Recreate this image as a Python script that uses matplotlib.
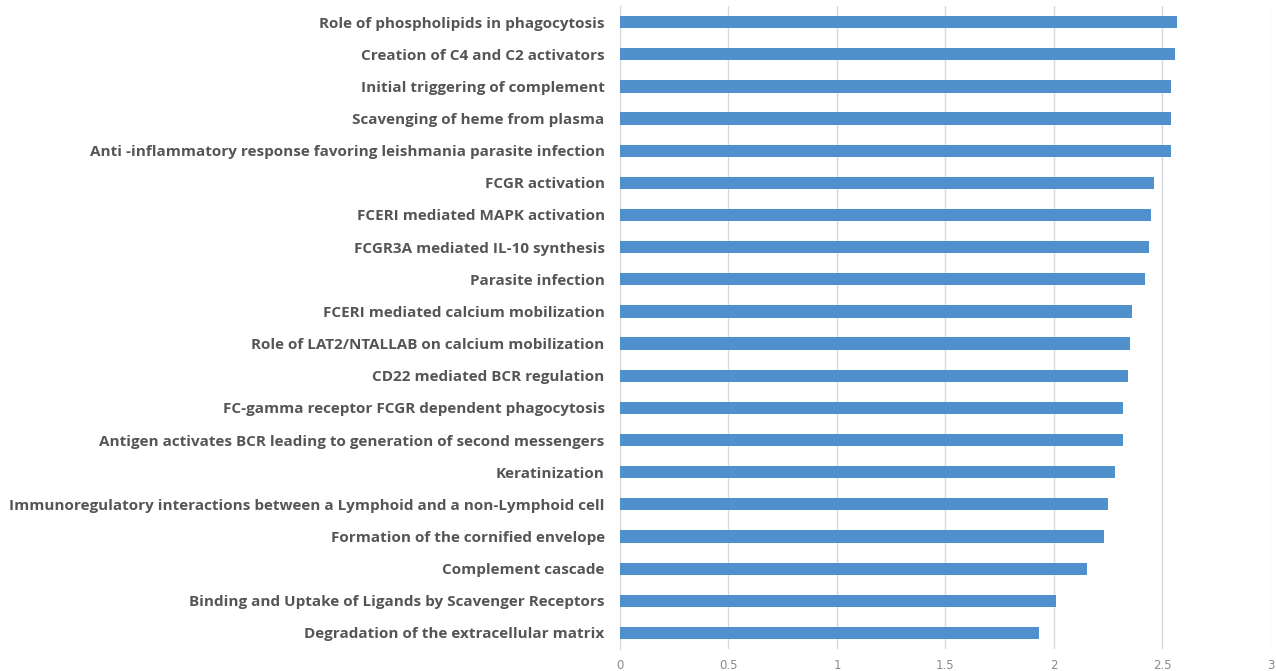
import matplotlib.pyplot as plt

# pathway names, top to bottom
pathways = [
    "Role of phospholipids in phagocytosis",
    "Creation of C4 and C2 activators",
    "Initial triggering of complement",
    "Scavenging of heme from plasma",
    "Anti -inflammatory response favoring leishmania parasite infection",
    "FCGR activation",
    "FCERI mediated MAPK activation",
    "FCGR3A mediated IL-10 synthesis",
    "Parasite infection",
    "FCERI mediated calcium mobilization",
    "Role of LAT2/NTALLAB on calcium mobilization",
    "CD22 mediated BCR regulation",
    "FC-gamma receptor FCGR dependent phagocytosis",
    "Antigen activates BCR leading to generation of second messengers",
    "Keratinization",
    "Immunoregulatory interactions between a Lymphoid and a non-Lymphoid cell",
    "Formation of the cornified envelope",
    "Complement cascade",
    "Binding and Uptake of Ligands by Scavenger Receptors",
    "Degradation of the extracellular matrix",
]
scores = [2.57, 2.56, 2.54, 2.54, 2.54, 2.46, 2.45, 2.44, 2.42, 2.36,
          2.35, 2.34, 2.32, 2.32, 2.28, 2.25, 2.23, 2.155, 2.01, 1.93]
xticks = [0, 0.5, 1, 1.5, 2, 2.5, 3]
xticklabels = ["0", "0.5", "1", "1.5", "2", "2.5", "3"]

fig = plt.figure(figsize=(12.76, 6.71), dpi=100)
ax = fig.add_axes([0.4859, 0.0328, 0.51, 0.9582])

ypos = list(range(len(pathways)))
ax.barh(ypos, scores, height=0.38, color="#5090cc", zorder=3)
ax.set_ylim(len(pathways) - 0.5, -0.5)
ax.set_xlim(0, 3)

ax.set_yticks(ypos)
ax.set_yticklabels(pathways, fontsize=11, fontweight="bold",
                   color="#555555", family="Open Sans")
ax.set_xticks(xticks)
ax.set_xticklabels(xticklabels, fontsize=8.5, color="#8a8a8a")
ax.tick_params(axis="y", length=0, pad=11)
ax.tick_params(axis="x", length=0, pad=7)

ax.grid(axis="x", color="#d9d9d9", linewidth=1, zorder=0)
for side in ["top", "right", "bottom"]:
    ax.spines[side].set_visible(False)
ax.spines["left"].set_color("#d9d9d9")

fig.savefig("out.png", dpi=100)
